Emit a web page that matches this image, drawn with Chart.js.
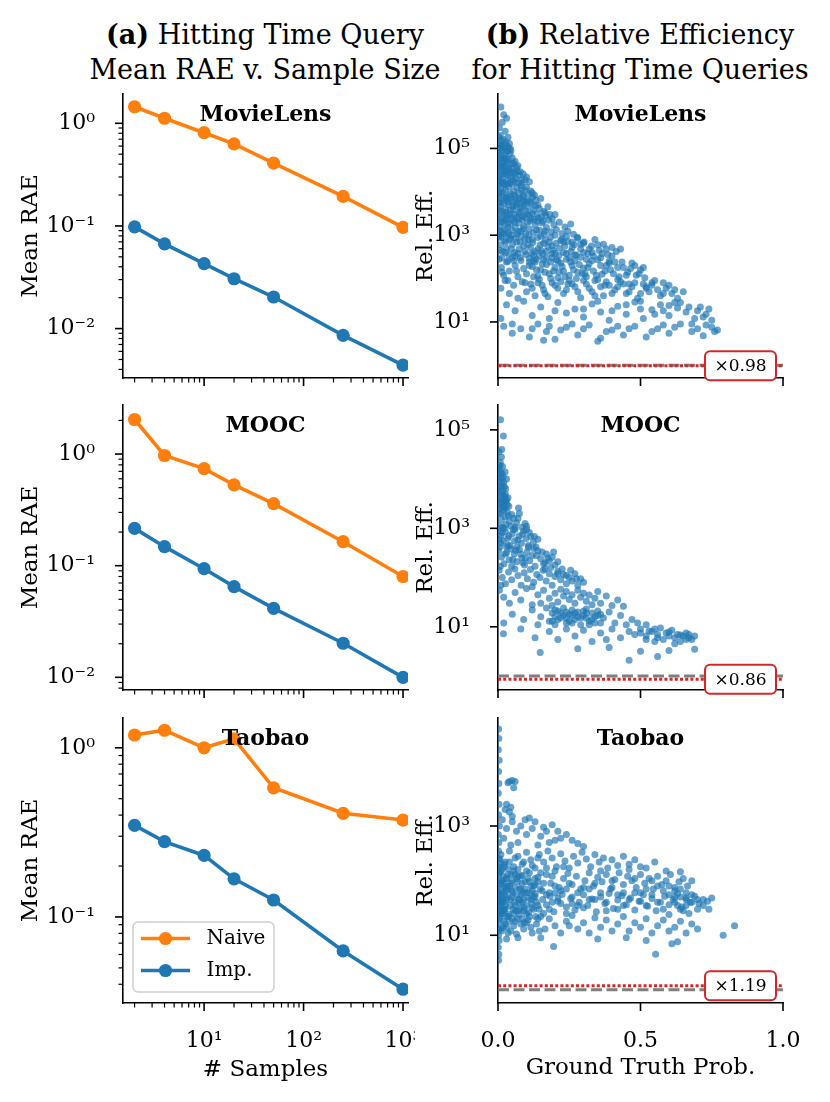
<!DOCTYPE html>
<html>
<head>
<meta charset="utf-8">
<script src="https://cdn.jsdelivr.net/npm/chart.js@4"></script>
<style>
body { margin:0; background:#fff; width:830px; height:1102px; position:relative; overflow:hidden; font-family:"DejaVu Serif", serif; }
.ttl { position:absolute; width:400px; text-align:center; font-size:27px; line-height:35px; color:#000; white-space:nowrap; }
.box { position:absolute; }
</style>
</head>
<body>
<div class="ttl" style="left:65px;top:17px"><b>(a)</b> Hitting Time Query<br>Mean RAE v. Sample Size</div>
<div class="ttl" style="left:440px;top:17px"><b>(b)</b> Relative Efficiency<br>for Hitting Time Queries</div>

<div class="box" style="left:0;top:84px;width:415px;height:306px"><canvas id="raeMovie"></canvas></div>
<div class="box" style="left:415px;top:84px;width:415px;height:306px"><canvas id="effMovie"></canvas></div>
<div class="box" style="left:0;top:392px;width:415px;height:310px"><canvas id="raeMooc"></canvas></div>
<div class="box" style="left:415px;top:392px;width:415px;height:310px"><canvas id="effMooc"></canvas></div>
<div class="box" style="left:0;top:705px;width:415px;height:397px"><canvas id="raeTaobao"></canvas></div>
<div class="box" style="left:415px;top:705px;width:415px;height:397px"><canvas id="effTaobao"></canvas></div>

<script>
// ---- data ----
const sampleSizes = [2, 4, 10, 20, 50, 250, 1000];

const movieNaive = [1.45, 1.12, 0.81, 0.63, 0.41, 0.194, 0.097];
const movieImp   = [0.098, 0.067, 0.043, 0.0306, 0.0203, 0.0086, 0.0044];
const moocNaive  = [2.04, 0.97, 0.74, 0.53, 0.36, 0.164, 0.080];
const moocImp    = [0.216, 0.148, 0.094, 0.065, 0.0415, 0.0202, 0.010];
const taobaoNaive = [1.19, 1.27, 1.0, 1.13, 0.58, 0.41, 0.374];
const taobaoImp   = [0.348, 0.279, 0.231, 0.168, 0.126, 0.063, 0.0374];

const effTicks = [10, 1e3, 1e5];
const probTicks = [0, 0.5, 1];

const movieRatio = 0.98;
const moocRatio = 0.86;
const taobaoRatio = 1.19;

// [ground truth prob, relative efficiency]
const moviePoints = [
[0.01,9e5],[0.02,6e5],[0.015,4e5],[0.005,3e5],[0.03,5e5],[0.025,2.5e5],[0.008,2e5],[0.012,1.5e5],[0.035,1.8e5],
[0.003,1.8e5],[0.01,1.2e5],[0.018,1.6e5],[0.022,1e5],[0.028,1.4e5],[0.035,1.1e5],[0.04,1.3e5],[0.006,1e5],
[0.002,8e4],[0.008,6e4],[0.013,9e4],[0.019,5e4],[0.024,7e4],[0.03,8.5e4],[0.036,5.5e4],[0.042,7.5e4],[0.05,6e4],[0.055,4.5e4],[0.005,4.2e4],[0.016,4.5e4],[0.045,9e4],[0.027,4e4],
[0.002,3.5e4],[0.007,2.5e4],[0.012,3e4],[0.017,2e4],[0.022,3.8e4],[0.027,2.6e4],[0.032,1.8e4],[0.038,3.2e4],[0.044,2.2e4],[0.05,3.5e4],[0.056,2.8e4],[0.062,2e4],[0.068,3e4],[0.075,2.4e4],[0.082,1.9e4],[0.088,2.6e4],[0.004,1.7e4],[0.015,1.6e4],[0.035,2.4e4],[0.058,1.7e4],[0.065,3.6e4],[0.02,3.2e4],
[0.001,1.4e4],[0.006,1e4],[0.011,1.2e4],[0.016,8e3],[0.021,1.5e4],[0.026,1.1e4],[0.031,7e3],[0.037,1.3e4],[0.043,9e3],[0.049,1.5e4],[0.055,1.05e4],[0.061,7.5e3],[0.067,1.25e4],[0.073,9.5e3],[0.08,1.4e4],[0.087,8e3],[0.094,1.1e4],[0.1,1.3e4],[0.108,9e3],[0.115,1.05e4],[0.122,7.5e3],[0.128,8.5e3],[0.004,7e3],[0.024,6.5e3],[0.046,6.8e3],[0.07,6.6e3],[0.105,6.5e3],[0.035,1.55e4],[0.083,1.1e4],
[0.002,6e3],[0.008,4.5e3],[0.014,3.5e3],[0.02,5.5e3],[0.026,4e3],[0.032,2.8e3],[0.038,5e3],[0.044,3.8e3],[0.05,6e3],[0.056,3e3],[0.062,4.6e3],[0.068,5.6e3],[0.074,3.3e3],[0.08,4.2e3],[0.086,2.7e3],[0.092,5.2e3],[0.098,3.6e3],[0.104,4.4e3],[0.11,2.9e3],[0.117,5.4e3],[0.124,3.8e3],[0.13,4.8e3],[0.137,3.1e3],[0.145,4.1e3],[0.152,2.6e3],[0.16,3.5e3],[0.168,2.8e3],[0.175,4.5e3],[0.011,2.6e3],[0.047,2.5e3],[0.088,6e3],[0.065,2.6e3],
[0.001,2.3e3],[0.007,1.6e3],[0.013,1.2e3],[0.019,2e3],[0.025,1.4e3],[0.031,2.4e3],[0.037,1.1e3],[0.043,1.8e3],[0.049,1.3e3],[0.055,2.2e3],[0.061,1.5e3],[0.067,1.05e3],[0.073,1.9e3],[0.079,1.25e3],[0.085,2.3e3],[0.091,1.6e3],[0.097,1.1e3],[0.103,2e3],[0.11,1.4e3],[0.117,2.4e3],[0.124,1.15e3],[0.131,1.7e3],[0.138,2.1e3],[0.146,1.3e3],[0.154,1.9e3],[0.162,1.05e3],[0.17,1.5e3],[0.178,2.2e3],[0.187,1.2e3],[0.196,1.75e3],[0.205,1.35e3],[0.215,2e3],[0.225,1.1e3],[0.235,1.55e3],[0.245,1.25e3],[0.255,1.8e3],[0.265,1.05e3],[0.004,1e3],[0.028,1.05e3],
[0.002,900],[0.009,600],[0.016,420],[0.023,750],[0.03,500],[0.037,350],[0.044,850],[0.051,620],[0.058,400],[0.066,700],[0.074,480],[0.082,950],[0.09,560],[0.098,360],[0.106,800],[0.114,520],[0.122,680],[0.13,420],[0.139,880],[0.148,600],[0.157,380],[0.166,760],[0.175,540],[0.184,900],[0.194,450],[0.204,650],[0.214,340],[0.224,820],[0.234,560],[0.245,720],[0.256,420],[0.267,600],[0.278,900],[0.29,480],[0.302,700],[0.315,380],[0.328,560],[0.34,800],[0.355,450],[0.37,620],[0.385,360],[0.4,520],[0.415,420],[0.43,480],[0.145,330],[0.06,330],
[0.004,280],[0.012,180],[0.02,120],[0.03,240],[0.04,150],[0.05,300],[0.06,200],[0.07,110],[0.08,260],[0.09,170],[0.1,130],[0.11,290],[0.12,190],[0.13,240],[0.14,115],[0.15,160],[0.16,270],[0.17,210],[0.18,130],[0.19,300],[0.2,180],[0.21,105],[0.22,230],[0.23,150],[0.24,280],[0.25,120],[0.26,200],[0.27,260],[0.28,140],[0.29,310],[0.3,175],[0.31,110],[0.32,220],[0.335,150],[0.35,270],[0.365,125],[0.38,200],[0.395,160],[0.41,240],[0.425,110],[0.44,180],[0.455,140],[0.47,230],[0.485,120],[0.5,160],[0.515,105],[0.54,80],
[0.01,60],[0.025,90],[0.04,45],[0.055,70],[0.07,35],[0.085,85],[0.1,50],[0.115,75],[0.13,40],[0.145,95],[0.16,55],[0.175,38],[0.19,80],[0.21,60],[0.23,45],[0.25,90],[0.27,65],[0.29,36],[0.31,75],[0.33,50],[0.35,95],[0.37,40],[0.39,70],[0.41,55],[0.43,85],[0.45,45],[0.47,65],[0.49,35],[0.51,75],[0.53,50],[0.55,90],[0.57,40],[0.59,60],[0.61,45],[0.63,35],[0.65,50],
[0.01,12],[0.03,25],[0.06,18],[0.09,30],[0.12,14],[0.15,22],[0.18,12],[0.21,28],[0.24,16],[0.27,20],[0.3,13],[0.33,26],[0.36,17],[0.39,11],[0.42,23],[0.45,15],[0.48,29],[0.51,12],[0.54,19],[0.57,25],[0.6,14],[0.63,21],[0.66,17],[0.69,12],[0.71,22],[0.73,15],[0.75,11],[0.2,18],[0.5,20],[0.62,28],
[0.02,8],[0.05,5.5],[0.08,7],[0.11,4.5],[0.14,9],[0.17,6],[0.2,4],[0.24,7.5],[0.28,5],[0.32,8.5],[0.36,4.2],[0.4,6.5],[0.44,5],[0.48,8],[0.52,4.5],[0.56,7],[0.6,5.5],[0.64,9],[0.68,6],[0.72,4.8],[0.75,7.5],[0.77,6.5],[0.35,3.6],[0.16,3.8],[0.05,9],
[0.004,1.25e5],[0.014,1.1e5],[0.025,1.2e5],[0.033,9e4],[0.043,1e5],
[0.004,5.5e4],[0.011,3.8e4],[0.021,6e4],[0.033,4.8e4],[0.039,3.5e4],[0.048,4.5e4],[0.06,5e4],[0.07,4e4],[0.009,7e4],[0.028,5.8e4],
[0.005,2.2e4],[0.01,1.8e4],[0.019,2.6e4],[0.025,1.5e4],[0.03,2.9e4],[0.041,1.6e4],[0.047,2.7e4],[0.053,1.9e4],[0.06,2.6e4],[0.072,1.6e4],[0.078,2.9e4],[0.085,1.6e4],[0.095,1.9e4],[0.1,2.2e4],[0.11,1.7e4],
[0.003,9e3],[0.009,5.5e3],[0.018,9.5e3],[0.028,7.5e3],[0.034,5.8e3],[0.04,8e3],[0.052,4.8e3],[0.058,8.5e3],[0.064,5.2e3],[0.077,7e3],[0.083,4.6e3],[0.09,8e3],[0.096,6e3],[0.112,6e3],[0.12,9.5e3],[0.133,6.5e3],[0.14,5e3],[0.15,7e3],
[0.004,3.8e3],[0.011,2e3],[0.017,3e3],[0.023,2.2e3],[0.029,3.4e3],[0.035,1.9e3],[0.041,3e3],[0.053,3.8e3],[0.059,2e3],[0.071,2.4e3],[0.077,3.4e3],[0.094,2.6e3],[0.101,3.1e3],[0.113,2.1e3],[0.12,3.2e3],[0.127,2.3e3],[0.142,2.5e3],[0.158,2.1e3],[0.165,3.3e3],[0.182,3e3],[0.19,2.4e3],[0.2,3e3],
[0.005,1.3e3],[0.01,900],[0.02,1.1e3],[0.027,700],[0.034,1.5e3],[0.04,800],[0.047,1e3],[0.062,850],[0.07,1.2e3],[0.078,700],[0.088,1.4e3],[0.094,800],[0.108,1e3],[0.12,800],[0.135,1.3e3],[0.15,950],[0.165,1.25e3],[0.18,700],[0.2,1e3],[0.22,750],[0.24,950],[0.26,700],[0.28,850],[0.3,650],
[0.006,450],[0.013,300],[0.026,400],[0.034,250],[0.047,480],[0.055,260],[0.07,380],[0.078,300],[0.094,420],[0.11,240],[0.118,380],[0.134,280],[0.152,440],[0.17,300],[0.19,380],[0.21,250],[0.23,400],[0.25,300],[0.27,350],[0.31,280],[0.33,400],[0.36,300],[0.39,250],
[0.015,140],[0.035,90],[0.065,150],[0.095,80],[0.125,110],[0.155,70],[0.185,100],[0.215,140],[0.245,75],[0.275,100],[0.305,130],[0.34,90],[0.375,70],[0.42,95],[0.46,75],[0.52,65],[0.58,80],
[0.105,600],[0.125,350],[0.14,480],[0.16,650],[0.17,420],[0.19,560],[0.2,380],[0.215,500],[0.23,700],[0.24,380],[0.26,520],[0.275,350],[0.29,620],[0.3,400],[0.32,480],[0.335,330],[0.35,600],[0.365,380],[0.38,480],[0.4,330],
[0.11,200],[0.125,260],[0.135,160],[0.155,220],[0.165,140],[0.185,240],[0.195,150],[0.205,270],[0.225,190],[0.235,110],[0.255,240],[0.265,160],[0.285,210],[0.295,130],[0.315,180],[0.33,260],[0.345,120],[0.36,200],[0.375,150],[0.39,230],[0.405,130],[0.42,180],[0.435,240],[0.45,120],[0.465,170],[0.48,200],[0.495,130],[0.51,180],
[0.12,60],[0.14,80],[0.165,45],[0.2,70],[0.22,85],[0.24,55],[0.26,75],[0.28,50],[0.3,90],[0.32,60],[0.34,40],[0.36,65],[0.38,85],[0.4,45],[0.42,65],[0.44,75],[0.46,50],[0.48,80],[0.5,45],[0.52,60],[0.54,70],[0.56,55],[0.58,45],[0.6,70],[0.62,55],
[0.3,20],[0.35,30],[0.4,18],[0.45,25],[0.5,30],[0.55,15],[0.58,18],[0.6,24],[0.64,28],[0.67,22],[0.7,18],[0.72,13],[0.74,20],[0.68,9],[0.7,7],[0.73,8.5],[0.76,6],[0.62,7.5],[0.58,8.5],[0.54,6],[0.46,7],[0.42,8],[0.38,6],[0.3,7],[0.26,9],[0.22,6.5],[0.18,8],[0.12,7]
];

const moocPoints = [
[0.009,1.6e5],[0.019,7.5e4],[0.013,4e4],
[0.004,3.6e4],[0.012,2.8e4],[0.008,2.2e4],[0.016,1.8e4],[0.005,1.7e4],
[0.003,1.5e4],[0.01,1.3e4],[0.018,1.1e4],[0.025,1.4e4],[0.006,9e3],[0.014,8e3],[0.022,7e3],[0.03,1e4],[0.002,6.5e3],[0.027,6.4e3],[0.011,1.05e4],
[0.003,5.5e3],[0.009,4.5e3],[0.015,6e3],[0.02,3.8e3],[0.026,5e3],[0.032,3e3],[0.006,3.2e3],[0.012,2.7e3],[0.018,3.3e3],[0.024,2.6e3],[0.035,4.2e3],[0.072,2.6e3],[0.004,2.5e3],[0.028,3.5e3],[0.038,2.8e3],
[0.004,2e3],[0.012,1.5e3],[0.02,2.3e3],[0.028,1.2e3],[0.036,1.8e3],[0.045,1.1e3],[0.055,1.6e3],[0.065,1.3e3],[0.075,2e3],[0.085,1.05e3],[0.095,1.25e3],[0.1,1.1e3],[0.016,1.05e3],[0.008,1.1e3],[0.04,1.4e3],[0.06,1.05e3],
[0.002,900],[0.01,700],[0.018,550],[0.026,850],[0.034,620],[0.042,450],[0.05,780],[0.058,560],[0.066,420],[0.074,700],[0.082,500],[0.09,880],[0.098,620],[0.106,450],[0.115,680],[0.124,520],[0.133,420],[0.14,600],[0.006,420],[0.03,420],[0.06,950],[0.1,950],[0.003,600],
[0.003,350],[0.012,260],[0.021,190],[0.03,320],[0.039,230],[0.048,170],[0.057,300],[0.066,210],[0.075,370],[0.084,250],[0.093,180],[0.102,330],[0.111,220],[0.12,280],[0.13,170],[0.14,350],[0.15,240],[0.16,190],[0.17,300],[0.18,220],[0.19,260],[0.2,180],[0.008,170],[0.045,380],[0.088,200],[0.125,390],
[0.004,140],[0.015,100],[0.026,75],[0.037,130],[0.048,90],[0.059,150],[0.07,110],[0.081,70],[0.092,125],[0.103,95],[0.114,145],[0.125,80],[0.136,115],[0.147,100],[0.158,140],[0.169,85],[0.18,120],[0.19,70],[0.2,105],[0.21,135],[0.22,90],[0.23,115],[0.24,75],[0.25,100],[0.26,85],[0.27,120],[0.28,70],[0.29,95],[0.3,80],[0.01,70],[0.12,65],[0.165,150],
[0.005,55],[0.02,40],[0.04,30],[0.06,50],[0.08,35],[0.1,60],[0.12,28],[0.14,45],[0.16,55],[0.18,38],[0.2,48],[0.21,32],[0.22,58],[0.23,42],[0.24,52],[0.25,36],[0.26,45],[0.27,30],[0.28,55],[0.29,40],[0.3,48],[0.31,33],[0.32,44],[0.33,28],[0.34,38],[0.36,30],[0.38,42],[0.4,27],[0.42,35],[0.44,26],[0.19,27],[0.35,52],[0.15,30],
[0.02,12],[0.05,18],[0.09,14],[0.12,22],[0.15,16],[0.17,24],[0.18,13],[0.19,19],[0.2,11],[0.21,21],[0.22,15],[0.23,24],[0.24,12],[0.25,18],[0.26,22],[0.27,14],[0.28,20],[0.29,11],[0.3,17],[0.31,23],[0.32,13],[0.33,19],[0.34,16],[0.35,21],[0.36,12],[0.37,15],[0.39,20],[0.41,12],[0.43,17],[0.45,11],[0.47,14],[0.49,12],[0.52,11],[0.2,16],[0.26,17],[0.31,15],[0.24,20],[0.14,11],
[0.019,7.2],[0.08,9],[0.13,6],[0.18,8],[0.21,5.5],[0.24,9],[0.27,6.5],[0.3,8.5],[0.33,5],[0.36,7.5],[0.4,9],[0.43,6],[0.46,8],[0.48,7],[0.5,9],[0.52,6.5],[0.54,8],[0.56,7],[0.57,9.5],[0.58,5.5],[0.59,7.5],[0.6,6.5],[0.61,8.5],[0.62,6],[0.63,7],[0.64,5],[0.65,6.5],[0.66,7.5],[0.67,6],[0.68,5.5],[0.69,6.5],[0.55,5],[0.38,5.5],[0.62,4.5],
[0.148,3],[0.46,2.1],[0.56,2.5],[0.69,3.5],[0.28,3.6],[0.5,3.2],[0.39,3.8],[0.6,3.3],
[0.007,1.9e4],[0.014,1.3e4],[0.005,1.1e4],[0.02,8.5e3],[0.009,7e3],[0.017,5e3],[0.023,4.5e3],[0.007,4e3],[0.03,3.8e3],[0.013,3.5e3],[0.02,2.9e3],[0.009,2e3],[0.025,1.7e3],[0.032,2.2e3],[0.048,1.9e3],[0.07,1.6e3],
[0.014,800],[0.022,1e3],[0.038,700],[0.054,950],[0.07,580],[0.086,760],[0.11,820],[0.128,680],[0.01,500],[0.025,300],[0.035,450],[0.052,230],[0.062,360],[0.08,300],[0.097,250],[0.107,420],[0.135,280],[0.155,330],[0.175,250],[0.195,330],[0.21,210],[0.165,200],[0.185,160],[0.21,120],[0.225,150],[0.24,110],[0.255,140],[0.275,95],
[0.19,13],[0.21,14],[0.23,17],[0.25,13],[0.27,19],[0.29,15],[0.31,19],[0.33,14],[0.35,17],[0.22,19],[0.26,12],[0.3,21],[0.34,12],[0.28,16],[0.32,11],[0.36,18],[0.24,15],[0.2,22],
[0.5,7.5],[0.53,8.2],[0.56,6],[0.6,7.8],[0.64,6.8],[0.66,5.5],[0.67,7],[0.52,5.5],[0.55,9]
];

const taobaoPoints = [
[0.002,6e4],[0.003,4e4],[0.001,2.5e4],[0.004,1.6e4],[0.002,1e4],[0.003,6e3],[0.001,4e3],[0.004,2.5e3],[0.002,1.6e3],[0.005,1e3],[0.001,700],[0.003,500],[0.002,350],[0.004,250],[0.001,180],[0.003,130],[0.005,100],[0.002,80],[0.001,60],[0.004,45],[0.003,35],[0.002,28],[0.005,22],[0.001,17],[0.003,13],[0.002,10],[0.004,8],[0.001,6],[0.003,4.5],[0.002,3.5],
[0.04,6.5e3],[0.05,6.8e3],[0.06,6.5e3],[0.055,5e3],[0.035,6.2e3],[0.03,2.5e3],[0.045,2.2e3],[0.04,1.8e3],[0.025,2e3],[0.05,1.5e3],
[0.015,1.3e3],[0.03,900],[0.05,1.2e3],[0.065,800],[0.08,1e3],[0.095,1.3e3],[0.1,700],[0.11,1.4e3],[0.12,900],[0.13,1.2e3],[0.15,650],[0.16,950],[0.17,800],[0.19,1.05e3],[0.2,550],[0.21,800],[0.22,600],[0.24,700],[0.26,550],[0.07,500],[0.14,450],[0.18,500],[0.28,480],[0.3,420],[0.02,600],[0.045,450],
[0.01,300],[0.025,220],[0.04,350],[0.055,180],[0.07,280],[0.085,200],[0.1,330],[0.115,240],[0.13,170],[0.145,300],[0.16,220],[0.175,350],[0.19,260],[0.205,180],[0.22,310],[0.235,230],[0.25,170],[0.265,280],[0.28,210],[0.295,330],[0.31,250],[0.325,180],[0.34,300],[0.355,220],[0.37,260],[0.385,170],[0.4,240],[0.42,190],[0.44,280],[0.46,200],[0.48,240],[0.5,180],[0.52,170],[0.55,220],[0.005,200],[0.035,165],
[0.005,140],[0.015,100],[0.025,75],[0.035,130],[0.045,90],[0.055,150],[0.065,110],[0.075,70],[0.085,125],[0.095,95],[0.11,140],[0.125,80],[0.14,115],[0.155,65],[0.17,130],[0.185,90],[0.2,150],[0.215,75],[0.23,110],[0.245,135],[0.26,85],[0.275,120],[0.29,70],[0.305,100],[0.32,140],[0.335,80],[0.35,115],[0.365,95],[0.38,130],[0.395,70],[0.41,105],[0.425,140],[0.44,85],[0.455,120],[0.47,100],[0.485,75],[0.5,130],[0.515,90],[0.53,110],[0.545,70],[0.56,120],[0.575,85],[0.59,100],[0.605,130],[0.62,75],[0.635,95],[0.65,110],[0.665,80],[0.68,100],[0.59,150],[0.64,145],
[0.003,55],[0.012,40],[0.022,30],[0.032,50],[0.042,35],[0.052,60],[0.062,28],[0.072,45],[0.082,55],[0.092,32],[0.105,48],[0.118,38],[0.131,58],[0.144,30],[0.157,45],[0.17,36],[0.183,52],[0.196,27],[0.21,42],[0.225,56],[0.24,33],[0.255,47],[0.27,29],[0.285,40],[0.3,55],[0.315,35],[0.33,46],[0.345,27],[0.36,50],[0.375,38],[0.39,58],[0.405,31],[0.42,44],[0.435,53],[0.45,36],[0.465,48],[0.48,29],[0.495,42],[0.51,55],[0.525,34],[0.54,47],[0.555,28],[0.57,40],[0.585,52],[0.6,36],[0.615,45],[0.63,58],[0.645,33],[0.66,48],[0.675,40],[0.69,52],[0.705,38],[0.72,45],[0.735,42],[0.75,48],[0.7,30],
[0.006,20],[0.018,14],[0.03,22],[0.045,12],[0.06,18],[0.075,24],[0.09,13],[0.105,19],[0.12,11],[0.135,16],[0.15,22],[0.165,13],[0.18,20],[0.2,15],[0.22,11],[0.24,18],[0.26,23],[0.28,13],[0.3,17],[0.32,11],[0.34,21],[0.36,14],[0.38,19],[0.4,12],[0.42,16],[0.44,22],[0.46,12],[0.48,17],[0.5,14],[0.52,20],[0.54,11],[0.56,15],[0.58,19],[0.6,12],[0.62,14],[0.64,18],[0.66,11],[0.68,16],[0.7,13],[0.83,15],[0.79,10],[0.1,17],[0.25,15],
[0.008,35],[0.012,70],[0.018,120],[0.006,250],[0.016,45],[0.02,18],[0.01,90],[0.014,160],[0.024,55],[0.028,110],[0.004,30],[0.008,13],[0.016,25],[0.02,200],[0.026,35],[0.032,80],[0.038,24],[0.048,65],[0.058,40],[0.068,95],[0.078,30],[0.088,60],
[0.03,8.5],[0.07,9],[0.195,6.2],[0.15,9],[0.35,8.5],[0.553,4.5],[0.61,7],[0.63,7.6],[0.45,9],[0.52,8],
[0.008,55],[0.014,28],[0.02,40],[0.028,65],[0.036,22],[0.044,45],[0.052,30],[0.06,75],[0.068,20],[0.076,38],[0.084,90],[0.092,17],[0.1,60],[0.108,26],[0.116,80],[0.124,50],[0.132,22],[0.14,35],[0.148,70],
[0.01,150],[0.022,180],[0.03,110],[0.04,220],[0.05,100],[0.06,260],[0.07,160],[0.08,120],[0.09,220],[0.1,150],[0.11,95],[0.12,190],[0.13,110],[0.14,260],[0.15,140],[0.16,90],[0.17,170],[0.18,60],[0.19,120],[0.2,80],
[0.21,48],[0.22,65],[0.23,180],[0.24,25],[0.25,90],[0.26,38],[0.28,60],[0.3,32],[0.32,70],[0.34,45],[0.36,150],[0.38,28],[0.4,75],[0.42,55],[0.44,35],[0.46,160],[0.48,60],[0.5,42],[0.52,70],[0.54,100],[0.56,40],[0.58,65],[0.6,24],[0.62,50],[0.64,70],[0.66,35],[0.68,55],[0.7,45],[0.72,35],[0.74,30],
[0.012,12],[0.025,16],[0.035,11],[0.055,15],[0.065,10.5],[0.085,20],[0.115,14],[0.145,12],
[0.005,40],[0.01,25],[0.015,60],[0.02,90],[0.025,30],[0.03,45],[0.035,70],[0.04,18],[0.045,130],[0.05,50],[0.055,25],[0.06,35],[0.065,55],[0.07,120],[0.075,45],[0.08,16],[0.085,40],[0.09,28],[0.095,70],[0.1,35],[0.105,110],[0.11,22],[0.115,45],[0.12,65],[0.125,30],[0.13,85],[0.135,40],[0.14,20],
[0.01,45],[0.02,28],[0.03,14],[0.04,80],[0.05,20],[0.06,130],[0.07,28],[0.08,70],[0.09,45],[0.1,25],[0.11,60],[0.12,32],[0.13,50],[0.14,95],
[0.3,75],[0.32,45],[0.34,90],[0.36,60],[0.38,40],[0.4,100],[0.42,30],[0.44,60],[0.46,45],[0.48,110],[0.5,60],[0.52,35],[0.54,55],[0.56,80],[0.58,30],[0.6,55],[0.62,40],[0.64,30],[0.66,60],[0.68,40],[0.6,80],[0.62,65],[0.64,50],[0.66,45],[0.63,35],[0.65,28],[0.67,25],
[0.18,30],[0.2,60],[0.22,38],[0.24,70],[0.26,50],[0.28,35],[0.16,25],[0.17,55],[0.19,40]
];

// ---- styling helpers ----
const ORANGE = '#ff7f0e', BLUE = '#1f77b4', RED = '#d62728', GRAY = '#7f7f7f';
const FONT = '"DejaVu Serif", serif';
const SUP = {'0':'\u2070','1':'\u00b9','2':'\u00b2','3':'\u00b3','4':'\u2074','5':'\u2075','6':'\u2076','-':'\u207b'};

function powLabel(v) {
  const e = String(Math.round(Math.log10(v)));
  return '10' + e.split('').map(c => SUP[c]).join('');
}

function logTicks(min, max) {
  const out = [];
  for (let e = Math.floor(Math.log10(min)); e <= Math.ceil(Math.log10(max)); e++) {
    for (let k = 1; k <= 9; k++) {
      const v = k * Math.pow(10, e);
      if (v >= min && v <= max) out.push({value: v, major: k === 1});
    }
  }
  return out;
}

// outward tick marks, long for decades, short for minor ones
const tickMarks = {
  id: 'tickMarks',
  afterDraw(chart) {
    const ctx = chart.ctx, a = chart.chartArea;
    const xs = chart.scales.x, ys = chart.scales.y;
    ctx.save();
    ctx.strokeStyle = '#000';
    xs.ticks.forEach(t => {
      const p = xs.getPixelForValue(t.value);
      if (p < a.left - 1 || p > a.right + 1) return;
      ctx.lineWidth = t.major ? 1.6 : 1.2;
      ctx.beginPath();
      ctx.moveTo(p, a.bottom);
      ctx.lineTo(p, a.bottom + (t.major ? 8 : 4.5));
      ctx.stroke();
    });
    ys.ticks.forEach(t => {
      const p = ys.getPixelForValue(t.value);
      if (p < a.top - 1 || p > a.bottom + 1) return;
      ctx.lineWidth = t.major ? 1.6 : 1.2;
      ctx.beginPath();
      ctx.moveTo(a.left, p);
      ctx.lineTo(a.left - (t.major ? 8 : 4.5), p);
      ctx.stroke();
    });
    ctx.restore();
  }
};

const panelName = {
  id: 'panelName',
  afterDatasetsDraw(chart, args, opts) {
    if (!opts.text) return;
    const ctx = chart.ctx, a = chart.chartArea;
    ctx.save();
    ctx.font = 'bold 22px ' + FONT;
    ctx.fillStyle = '#000';
    ctx.textAlign = 'center';
    ctx.textBaseline = 'middle';
    ctx.fillText(opts.text, (a.left + a.right) / 2, a.top + 21);
    ctx.restore();
  }
};

const ratioBox = {
  id: 'ratioBox',
  afterDatasetsDraw(chart, args, opts) {
    if (!opts.ratio) return;
    const ctx = chart.ctx, a = chart.chartArea;
    const cy = chart.scales.y.getPixelForValue(opts.ratio);
    const w = 71, h = 29, x = a.right - 7 - w;
    ctx.save();
    ctx.beginPath();
    ctx.roundRect(x, cy - h / 2, w, h, 5);
    ctx.fillStyle = '#fff';
    ctx.fill();
    ctx.strokeStyle = RED;
    ctx.lineWidth = 2;
    ctx.stroke();
    ctx.fillStyle = '#000';
    ctx.font = '17px ' + FONT;
    ctx.textAlign = 'center';
    ctx.textBaseline = 'middle';
    ctx.fillText('\u00d7' + opts.ratio.toFixed(2), x + w / 2, cy + 1);
    ctx.restore();
  }
};

const boxLegend = {
  id: 'boxLegend',
  afterDatasetsDraw(chart, args, opts) {
    if (!opts.show) return;
    const ctx = chart.ctx, a = chart.chartArea;
    const w = 141, h = 70, x0 = a.left + 10, y0 = a.bottom - 11 - h;
    ctx.save();
    ctx.beginPath();
    ctx.roundRect(x0, y0, w, h, 5);
    ctx.fillStyle = 'rgba(255,255,255,0.8)';
    ctx.fill();
    ctx.strokeStyle = '#d0d0d0';
    ctx.lineWidth = 1.5;
    ctx.stroke();
    chart.data.datasets.forEach((ds, i) => {
      const y = y0 + 16.5 + i * 32;
      ctx.strokeStyle = ds.borderColor;
      ctx.lineWidth = 3.6;
      ctx.beginPath();
      ctx.moveTo(x0 + 8, y);
      ctx.lineTo(x0 + 57, y);
      ctx.stroke();
      ctx.fillStyle = ds.borderColor;
      ctx.beginPath();
      ctx.arc(x0 + 32.5, y, 6.6, 0, Math.PI * 2);
      ctx.fill();
      ctx.fillStyle = '#000';
      ctx.font = '20px ' + FONT;
      ctx.textBaseline = 'middle';
      ctx.fillText(ds.label, x0 + 73.5, y);
    });
    ctx.restore();
  }
};

Chart.register(tickMarks, panelName, ratioBox, boxLegend);

// rows: top padding and x-axis height so the axes line up across columns
const ROWS = [{pad: 10, xh: 12}, {pad: 13, xh: 12}, {pad: 13, xh: 99}];

function axisTitle(text, pad) {
  return {display: true, text: text, color: '#000', font: {family: FONT, size: 23, lineHeight: 1}, padding: pad};
}

function raeChart(id, naive, imp, yMin, yMax, name, row, legend) {
  const bottom = row === 2;
  const line = (label, vals, color) => ({
    label: label,
    data: sampleSizes.map((s, i) => ({x: s, y: vals[i]})),
    borderColor: color, backgroundColor: color,
    borderWidth: 3.6, pointRadius: 6.6, pointBorderWidth: 0,
    pointBackgroundColor: color, tension: 0
  });
  new Chart(document.getElementById(id), {
    type: 'line',
    data: {datasets: [line('Naive', naive, ORANGE), line('Imp.', imp, BLUE)]},
    options: {
      responsive: true, maintainAspectRatio: false, animation: false,
      layout: {padding: {top: ROWS[row].pad, right: 7, bottom: 0, left: 0}},
      plugins: {legend: {display: false}, tooltip: {enabled: false},
        panelName: {text: name}, boxLegend: {show: legend}, ratioBox: {}},
      scales: {
        x: {
          type: 'logarithmic', min: 1.53, max: 1122,
          afterBuildTicks: s => { s.ticks = logTicks(1.53, 1122); },
          afterFit: s => { s.height = ROWS[row].xh; s.paddingLeft = 0; s.paddingRight = 0; },
          grid: {display: false},
          border: {display: true, color: '#000', width: 1.6},
          ticks: {autoSkip: false, maxRotation: 0, padding: 17, color: '#000', font: {family: FONT, size: 22},
            callback: (v, i, t) => (bottom && t[i].major) ? powLabel(v) : ''},
          title: bottom ? axisTitle('# Samples', {top: 0, bottom: 20}) : {display: false}
        },
        y: {
          type: 'logarithmic', min: yMin, max: yMax,
          afterBuildTicks: s => { s.ticks = logTicks(yMin, yMax); },
          afterFit: s => { s.width = 123; s.paddingTop = 0; s.paddingBottom = 0; },
          grid: {display: false},
          border: {display: true, color: '#000', width: 1.6},
          ticks: {autoSkip: false, padding: 20, color: '#000', font: {family: FONT, size: 22},
            callback: (v, i, t) => t[i].major ? powLabel(v) : ''},
          title: axisTitle('Mean RAE', {top: 19.5, bottom: 0})
        }
      }
    }
  });
}

function effChart(id, pts, ratio, yMin, yMax, name, row) {
  const bottom = row === 2;
  new Chart(document.getElementById(id), {
    type: 'scatter',
    data: {datasets: [
      {label: 'ratio', type: 'line', data: [{x: 0, y: ratio}, {x: 1, y: ratio}], order: 0,
        borderColor: RED, borderWidth: 3, borderDash: [3, 2.2], pointRadius: 0, clip: 0},
      {label: 'equal', type: 'line', data: [{x: 0, y: 1}, {x: 1, y: 1}], order: 1,
        borderColor: GRAY, borderWidth: 3, borderDash: [11, 4.5], pointRadius: 0, clip: 0},
      {label: 'queries', data: pts.map(p => ({x: p[0], y: p[1]})), order: 2,
        pointRadius: 3.5, pointBorderWidth: 0, pointBackgroundColor: 'rgba(31,119,180,0.68)', clip: 0}
    ]},
    options: {
      responsive: true, maintainAspectRatio: false, animation: false,
      layout: {padding: {top: ROWS[row].pad, right: 47, bottom: 0, left: 0}},
      plugins: {legend: {display: false}, tooltip: {enabled: false},
        panelName: {text: name}, ratioBox: {ratio: ratio}, boxLegend: {show: false}},
      scales: {
        x: {
          type: 'linear', min: 0, max: 1,
          afterBuildTicks: s => { s.ticks = probTicks.map(v => ({value: v, major: true})); },
          afterFit: s => { s.height = ROWS[row].xh; s.paddingLeft = 0; s.paddingRight = 0; },
          grid: {display: false},
          border: {display: true, color: '#000', width: 1.6},
          ticks: {autoSkip: false, maxRotation: 0, padding: 17, color: '#000', font: {family: FONT, size: 22},
            callback: v => bottom ? v.toFixed(1) : ''},
          title: bottom ? axisTitle('Ground Truth Prob.', {top: 0, bottom: 22}) : {display: false}
        },
        y: {
          type: 'logarithmic', min: yMin, max: yMax,
          afterBuildTicks: s => { s.ticks = effTicks.filter(v => v >= yMin && v <= yMax).map(v => ({value: v, major: true})); },
          afterFit: s => { s.width = 83; s.paddingTop = 0; s.paddingBottom = 0; },
          grid: {display: false},
          border: {display: true, color: '#000', width: 1.6},
          ticks: {autoSkip: false, padding: 20, color: '#000', font: {family: FONT, size: 22},
            callback: v => powLabel(v)},
          title: axisTitle('Rel. Eff.', {top: 0, bottom: 0})
        }
      }
    }
  });
}

raeChart('raeMovie', movieNaive, movieImp, 0.0033, 1.93, 'MovieLens', 0, false);
raeChart('raeMooc', moocNaive, moocImp, 0.0077, 2.75, 'MOOC', 1, false);
raeChart('raeTaobao', taobaoNaive, taobaoImp, 0.031, 1.5, 'Taobao', 2, true);

effChart('effMovie', moviePoints, movieRatio, 0.51, 1.8e6, 'MovieLens', 0);
effChart('effMooc', moocPoints, moocRatio, 0.52, 3.2e5, 'MOOC', 1);
effChart('effTaobao', taobaoPoints, taobaoRatio, 0.575, 9.5e4, 'Taobao', 2);
</script>
</body>
</html>
